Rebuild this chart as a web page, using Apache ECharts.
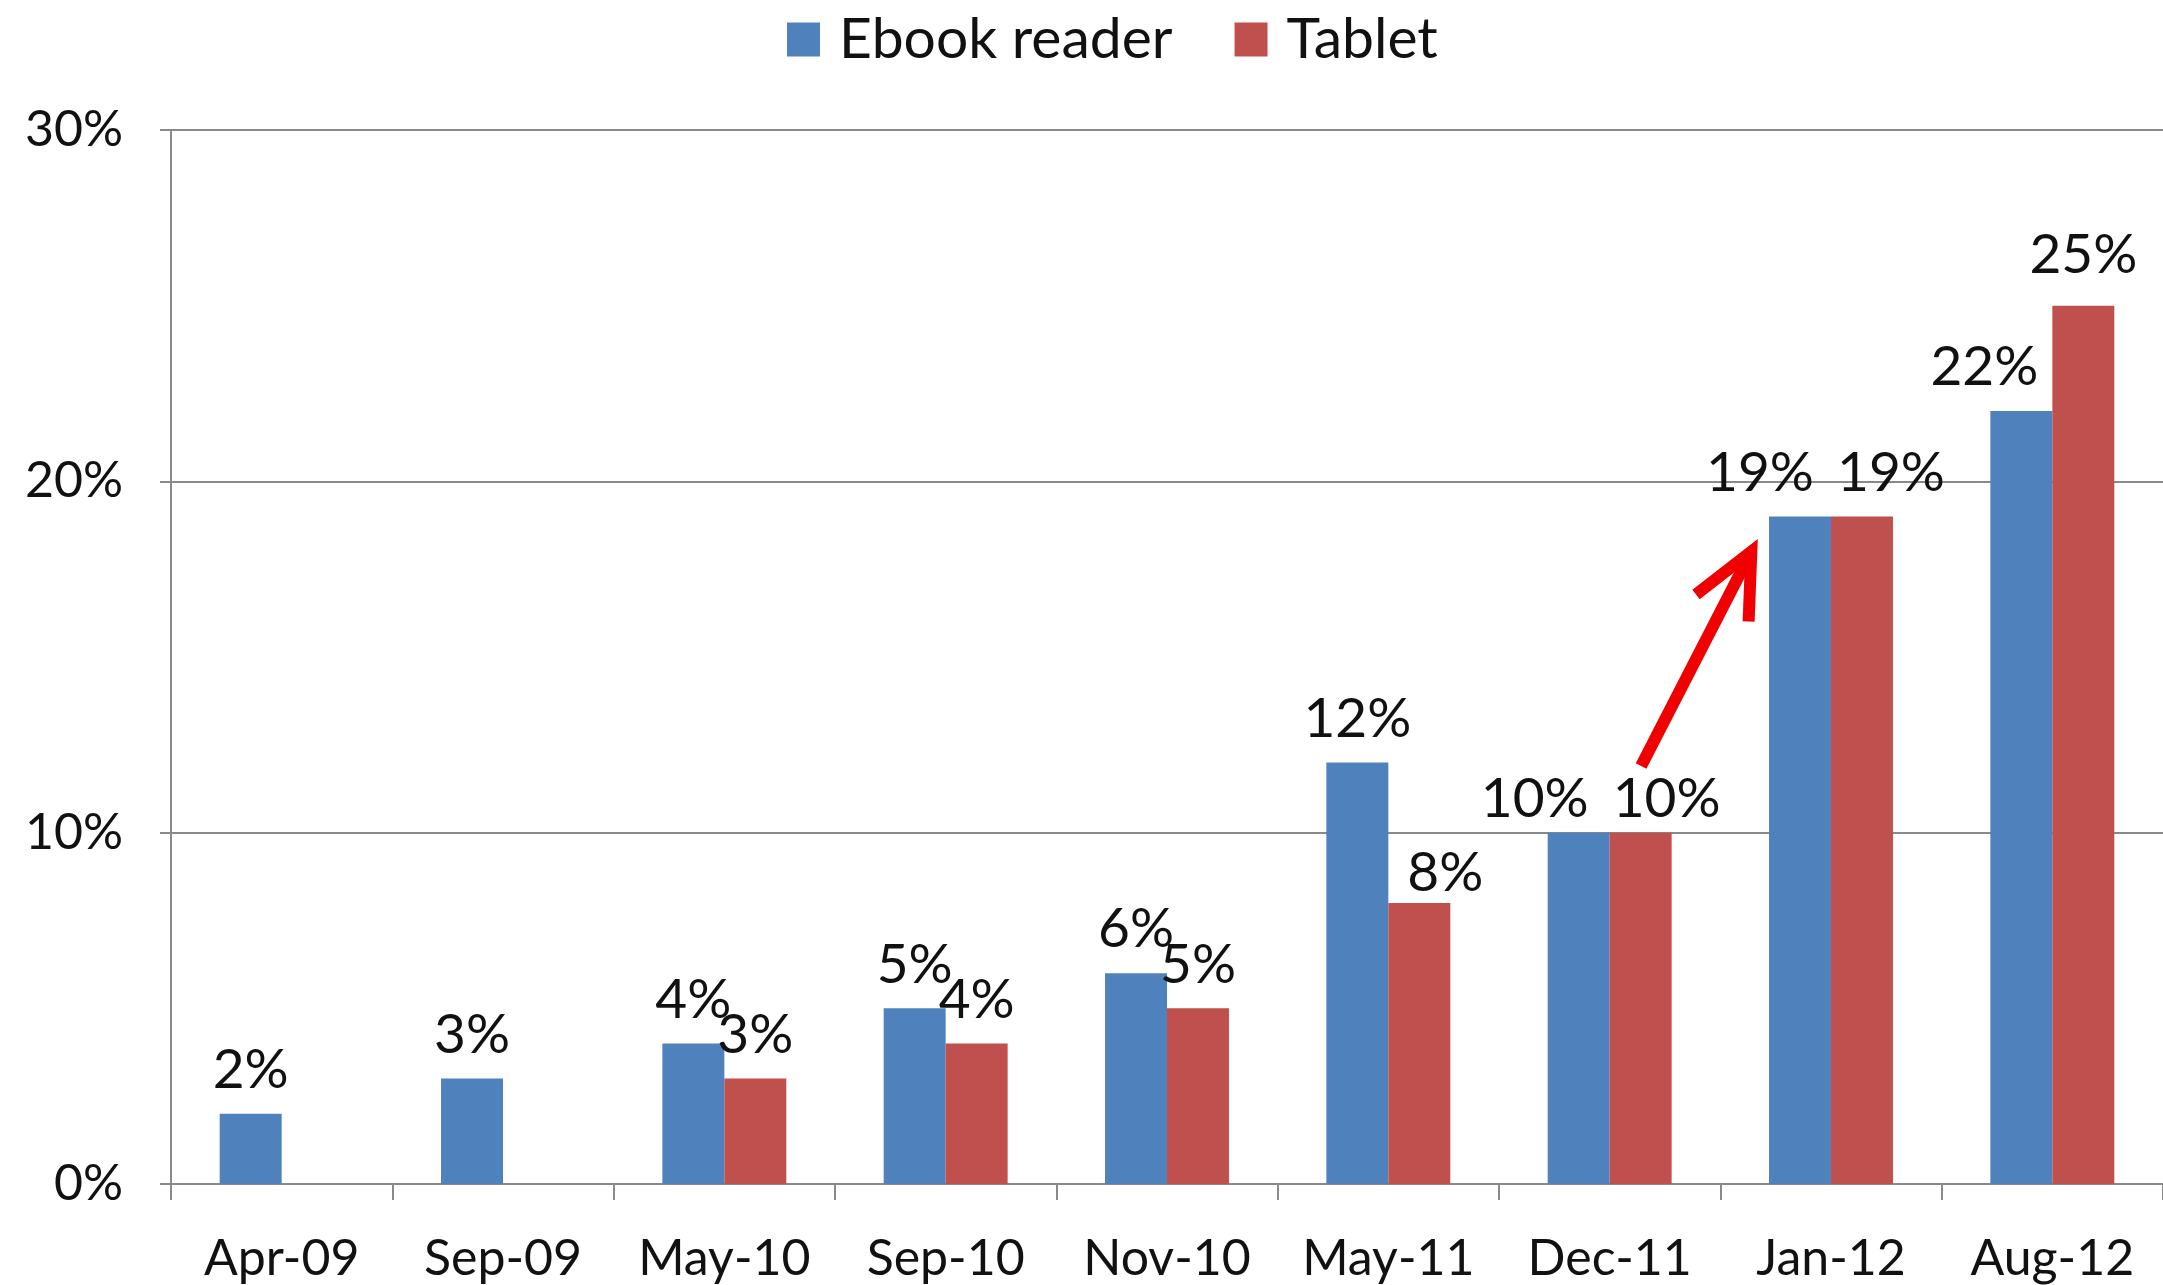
<!DOCTYPE html>
<html>
<head>
<meta charset="utf-8">
<script src="https://cdn.jsdelivr.net/npm/echarts@6/dist/echarts.min.js"></script>
<style>
html,body{margin:0;padding:0;background:#fff;}
#chart{width:2163px;height:1285px;}
</style>
</head>
<body>
<div id="chart"></div>
<script>
// ---- data ----
const categories = ['Apr-09','Sep-09','May-10','Sep-10','Nov-10','May-11','Dec-11','Jan-12','Aug-12'];
const ebookReader = [2, 3, 4, 5, 6, 12, 10, 19, 22];
const tablet = [null, null, 3, 4, 5, 8, 10, 19, 25];
const seriesNames = ['Ebook reader', 'Tablet'];
const yTicks = [0, 10, 20, 30];

// ---- style ----
const FONT = 'Lato';
const FS = 50;
const FS_LABEL = 55;
const FS_LEGEND = 57;
const BLUE = '#4F81BD';
const RED = '#C0504D';
const GRID = '#8a8a8a';

// label nudges (style only, by category index)
const blueNudge = {6: [-44, 10], 7: [-40, 0], 8: [-37, 0]};
const redNudge = {5: [26, 14], 6: [26, 10], 7: [29, 0], 8: [0, -7]};

function items(values, nudge) {
  return values.map((v, i) => {
    const it = {value: v};
    if (nudge[i]) it.label = {offset: nudge[i]};
    return it;
  });
}

const chart = echarts.init(document.getElementById('chart'), null, {renderer: 'canvas'});

const labelCfg = {
  show: true,
  position: 'top',
  distance: 16,
  formatter: p => (p.value == null ? '' : p.value + '%'),
  fontFamily: FONT,
  fontSize: FS_LABEL,
  color: '#111'
};

chart.setOption({
  animation: false,
  backgroundColor: '#fff',
  textStyle: {fontFamily: FONT},
  legend: {
    data: seriesNames,
    left: 782,
    top: 6,
    itemWidth: 33,
    itemHeight: 34,
    itemGap: 62,
    icon: 'rect',
    textStyle: {fontFamily: FONT, fontSize: FS_LEGEND, color: '#111', padding: [0, 0, 0, 14]}
  },
  grid: {left: 171, right: 0, top: 130, bottom: 101, containLabel: false},
  xAxis: {
    type: 'category',
    data: categories,
    boundaryGap: true,
    axisLine: {show: true, lineStyle: {color: GRID, width: 2}},
    axisTick: {show: true, length: 16, inside: false, lineStyle: {color: GRID, width: 2}},
    axisLabel: {fontFamily: FONT, fontSize: FS, color: '#111', margin: 50, interval: 0},
    splitLine: {show: false}
  },
  yAxis: {
    type: 'value',
    min: yTicks[0],
    max: yTicks[yTicks.length - 1],
    interval: 10,
    axisLine: {show: true, lineStyle: {color: GRID, width: 2}},
    axisTick: {show: true, length: 11, lineStyle: {color: GRID, width: 2}},
    axisLabel: {fontFamily: FONT, fontSize: FS, color: '#111', margin: 48, formatter: '{value}%'},
    splitLine: {show: true, lineStyle: {color: GRID, width: 2}}
  },
  series: [
    {
      name: seriesNames[0],
      type: 'bar',
      data: items(ebookReader, blueNudge),
      barWidth: '28%',
      barGap: '0%',
      itemStyle: {color: BLUE},
      label: labelCfg
    },
    {
      name: seriesNames[1],
      type: 'bar',
      data: items(tablet, redNudge),
      barWidth: '28%',
      barGap: '0%',
      itemStyle: {color: RED},
      label: labelCfg
    }
  ]
});

// ---- annotation arrow (from Dec-11 towards Jan-12), positioned in data space ----
const arrowFrom = {cat: 6, frac: 0.142, value: 11.9};
const arrowTo = {cat: 7, frac: -0.36, value: 18.0};

function toPx(pt) {
  const a = chart.convertToPixel({gridIndex: 0}, [pt.cat, pt.value]);
  const b = chart.convertToPixel({gridIndex: 0}, [pt.cat + 1, pt.value]);
  return [a[0] + pt.frac * (b[0] - a[0]), a[1]];
}
const p0 = toPx(arrowFrom);
const p1 = toPx(arrowTo);
const dx = p0[0] - p1[0], dy = p0[1] - p1[1];
const L = Math.hypot(dx, dy);
const ux = dx / L, uy = dy / L;
const headLen = 70, ang = 25 * Math.PI / 180;
function rot(x, y, a) { return [x * Math.cos(a) - y * Math.sin(a), x * Math.sin(a) + y * Math.cos(a)]; }
const r1 = rot(ux, uy, ang), r2 = rot(ux, uy, -ang);
const h1 = [p1[0] + r1[0] * headLen, p1[1] + r1[1] * headLen];
const h2 = [p1[0] + r2[0] * headLen, p1[1] + r2[1] * headLen];

chart.setOption({
  graphic: [
    {type: 'line', shape: {x1: p0[0], y1: p0[1], x2: p1[0] + ux * 6, y2: p1[1] + uy * 6},
     style: {stroke: '#F00000', lineWidth: 12}, z: 100},
    {type: 'polyline', shape: {points: [h1, p1, h2]},
     style: {stroke: '#F00000', lineWidth: 12, fill: null, lineJoin: 'miter', lineCap: 'butt'}, z: 100}
  ]
});
</script>
</body>
</html>
